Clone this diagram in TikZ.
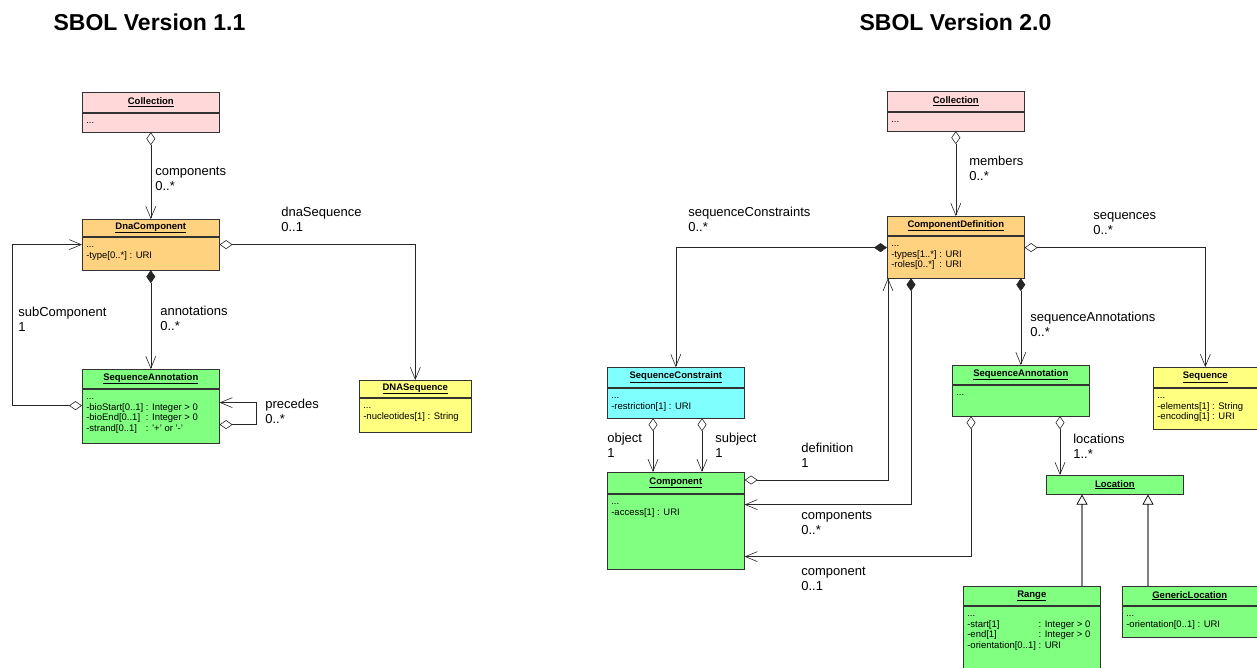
\documentclass[tikz,border=0pt]{standalone}
\usepackage{fontspec}
\setmainfont{Liberation Sans}
\usetikzlibrary{arrows.meta,positioning}
\definecolor{collpink}{HTML}{FFD9D9}
\definecolor{defnorange}{HTML}{FFD280}
\definecolor{annogreen}{HTML}{80FF80}
\definecolor{seqyellow}{HTML}{FFFF80}
\definecolor{conscyan}{HTML}{80FFFF}
\begin{document}
\begin{tikzpicture}[x=1pt, y=-1pt, line width=.6pt,
            clshead/.style={
            draw=black!80,
            rectangle,
            anchor=north west,
            minimum width=137pt,
            minimum height=19pt,
            inner sep=0pt,
            font=\fontsize{9.5}{11}\selectfont\bfseries},
            clsbody/.style={
            draw=black!80,
            rectangle,
            anchor=north,
            minimum width=137pt,
            inner sep=0pt},
            attr/.style={
            anchor=north west,
            inner xsep=4pt,
            inner ysep=3pt,
            align=left,
            font=\fontsize{9.5}{10.7}\selectfont},
            role/.style={
            anchor=north west,
            inner sep=0pt,
            align=left,
            execute at begin node=\strut,
            font=\fontsize{13}{15}\selectfont},
            aggr/.style={draw=black!85, arrows={Diamond[open,length=13pt,width=9pt]}-{Straight Barb[length=12pt,width=10pt]}},
            compo/.style={draw=black!85, arrows={Diamond[length=13pt,width=9pt]}-{Straight Barb[length=12pt,width=10pt]}},
            gen/.style={draw=black!50, line width=1.4pt, -{Triangle[open,length=10pt,width=11pt,line width=.7pt,color=black]}}]

    \path[use as bounding box, clip] (0,0) rectangle (1257,667);

    \node[font=\fontsize{23}{27}\selectfont\bfseries, anchor=base] (title1) at (149.5,30) {SBOL Version 1.1};
    \node[font=\fontsize{23}{27}\selectfont\bfseries, anchor=base] (title2) at (955.5,30) {SBOL Version 2.0};

    % version 1.1
    \node[clshead, fill=collpink, minimum height=20pt] (col) at (82,92) {\underline{Collection}};
    \node[clsbody, fill=collpink, minimum height=19pt] (colb) at (col.south) {};
    \node[attr] (colt) at (colb.north west) {\strut...};

    \node[clshead, fill=defnorange, minimum height=17pt] (dna) at (82,219) {\underline{DnaComponent}};
    \node[clsbody, fill=defnorange, minimum height=33pt] (dnab) at (dna.south) {};
    \node[attr] (dnat) at (dnab.north west) {\strut...\\-type[0..*] : URI};

    \node[clshead, fill=annogreen] (sa) at (82,369) {\underline{SequenceAnnotation}};
    \node[clsbody, fill=annogreen, minimum height=54pt] (sab) at (sa.south) {};
    \node[attr] (sat) at (sab.north west) {\begin{tabular}{@{}l@{ }l@{}}
        \multicolumn{2}{@{}l@{}}{...}\\
        -bioStart[0..1] & : Integer > 0\\
        -bioEnd[0..1] & : Integer > 0\\
        -strand[0..1] & : '+' or '-'
        \end{tabular}};

    \node[clshead, fill=seqyellow, minimum width=112pt, minimum height=17pt] (dnas) at (359,380) {\underline{DNASequence}};
    \node[clsbody, fill=seqyellow, minimum width=112pt, minimum height=34pt] (dnasb) at (dnas.south) {};
    \node[attr] (dnast) at (dnasb.north west) {\strut...\\-nucleotides[1] : String};

    \draw[aggr] (colb.south) -- (dna.north);
    \draw[compo] (dnab.south) -- (sa.north);
    \draw[aggr] ([yshift=-8pt]dnab.north east) -| (dnas.north);
    \draw[aggr] ([yshift=-17pt]sab.north west) -- ++(-70,0) |- ([yshift=-8pt]dnab.north west);
    \draw[aggr] ([yshift=-36pt]sab.north east) -- ++(37,0) |- ([yshift=-14pt]sab.north east);

    \node[role] (lcomps) at (155,166.5) {components\\0..*};
    \node[role] (ldnaseq) at (281,206.5) {dnaSequence\\0..1};
    \node[role] (lsubcomp) at (18,306.5) {subComponent\\1};
    \node[role] (lanno) at (160,305.5) {annotations\\0..*};
    \node[role] (lprec) at (265,398.5) {precedes\\0..*};

    % version 2.0
    \node[clshead, fill=collpink, minimum height=20pt] (col2) at (887,91) {\underline{Collection}};
    \node[clsbody, fill=collpink, minimum height=19pt] (col2b) at (col2.south) {};
    \node[attr] (col2t) at (col2b.north west) {\strut...};

    \node[clshead, fill=defnorange] (cd) at (887,216) {\underline{ComponentDefinition}};
    \node[clsbody, fill=defnorange, minimum height=42pt] (cdb) at (cd.south) {};
    \node[attr] (cdt) at (cdb.north west) {\begin{tabular}{@{}l@{ }l@{}}
        \multicolumn{2}{@{}l@{}}{...}\\
        -types[1..*] & : URI\\
        -roles[0..*] & : URI
        \end{tabular}};

    \node[clshead, fill=conscyan, minimum height=20pt] (sc) at (607,367) {\underline{SequenceConstraint}};
    \node[clsbody, fill=conscyan, minimum height=30pt] (scb) at (sc.south) {};
    \node[attr] (sct) at (scb.north west) {\strut...\\-restriction[1] : URI};

    \node[clshead, fill=annogreen] (sa2) at (952,365) {\underline{SequenceAnnotation}};
    \node[clsbody, fill=annogreen, minimum height=31pt] (sa2b) at (sa2.south) {};
    \node[attr] (sa2t) at (sa2b.north west) {\strut...};

    \node[clshead, fill=seqyellow, minimum width=104pt, minimum height=20pt] (seq) at (1153,367) {\underline{Sequence}};
    \node[clsbody, fill=seqyellow, minimum width=104pt, minimum height=41pt] (seqb) at (seq.south) {};
    \node[attr] (seqt) at (seqb.north west) {\strut...\\-elements[1] : String\\-encoding[1] : URI};

    \node[clshead, fill=annogreen, minimum height=21pt] (comp) at (607,472) {\underline{Component}};
    \node[clsbody, fill=annogreen, minimum height=75pt] (compb) at (comp.south) {};
    \node[attr] (compt) at (compb.north west) {\strut...\\-access[1] : URI};

    \node[clshead, fill=annogreen] (loc) at (1046,475) {\underline{Location}};

    \node[clshead, fill=annogreen] (rng) at (963,586) {\underline{Range}};
    \node[clsbody, fill=annogreen, minimum height=100pt] (rngb) at (rng.south) {};
    \node[attr] (rngt) at (rngb.north west) {\begin{tabular}{@{}l@{ }l@{}}
        \multicolumn{2}{@{}l@{}}{...}\\
        -start[1] & : Integer > 0\\
        -end[1] & : Integer > 0\\
        -orientation[0..1] & : URI
        \end{tabular}};

    \node[clshead, fill=annogreen, minimum width=135pt] (glc) at (1122,586) {\underline{GenericLocation}};
    \node[clsbody, fill=annogreen, minimum width=135pt, minimum height=31pt] (glcb) at (glc.south) {};
    \node[attr] (glct) at (glcb.north west) {\strut...\\-orientation[0..1] : URI};

    \draw[aggr] (col2b.south) -- (cd.north);
    \draw[compo] ([yshift=-12pt]cdb.north west) -| (sc.north);
    \draw[aggr] ([yshift=-12pt]cdb.north east) -| (seq.north);
    \draw[compo] (sa2.north |- cdb.south) -- (sa2.north);
    \draw[aggr] ([yshift=-8pt]comp.north east) -| ([xshift=1pt]cdb.south west);
    \draw[compo] ([xshift=24pt]cdb.south west) |- ([yshift=-11pt]compb.north east);
    \draw[aggr] ([xshift=19pt]sa2b.south west) |- ([yshift=-63pt]compb.north east);
    \draw[aggr] ([xshift=46pt]scb.south west) -- ([xshift=46pt]comp.north west);
    \draw[aggr] ([xshift=95pt]scb.south west) -- ([xshift=95pt]comp.north west);
    \draw[aggr] ([xshift=108pt]sa2b.south west) -- ([xshift=14pt]loc.north west);
    \draw[gen] ([xshift=119pt]rng.north west) -- ([xshift=36pt]loc.south west);
    \draw[gen] ([xshift=26pt]glc.north west) -- ([xshift=102pt]loc.south west);

    \node[role] (lmembers) at (969,155.5) {members\\0..*};
    \node[role] (lseqcons) at (688,206.5) {sequenceConstraints\\0..*};
    \node[role] (lseqs) at (1093,212.5) {sequences\\0..*};
    \node[role] (lseqanno) at (1030,311.5) {sequenceAnnotations\\0..*};
    \node[role] (ldef) at (801,442.5) {definition\\1};
    \node[role] (lcomps2) at (801,510.5) {components\\0..*};
    \node[role] (lcomp) at (801,566.5) {component\\0..1};
    \node[role] (lobj) at (607,432.5) {object\\1};
    \node[role] (lsubj) at (715,433) {subject\\1};
    \node[role] (llocs) at (1073,433.5) {locations\\1..*};
\end{tikzpicture}
\end{document}
